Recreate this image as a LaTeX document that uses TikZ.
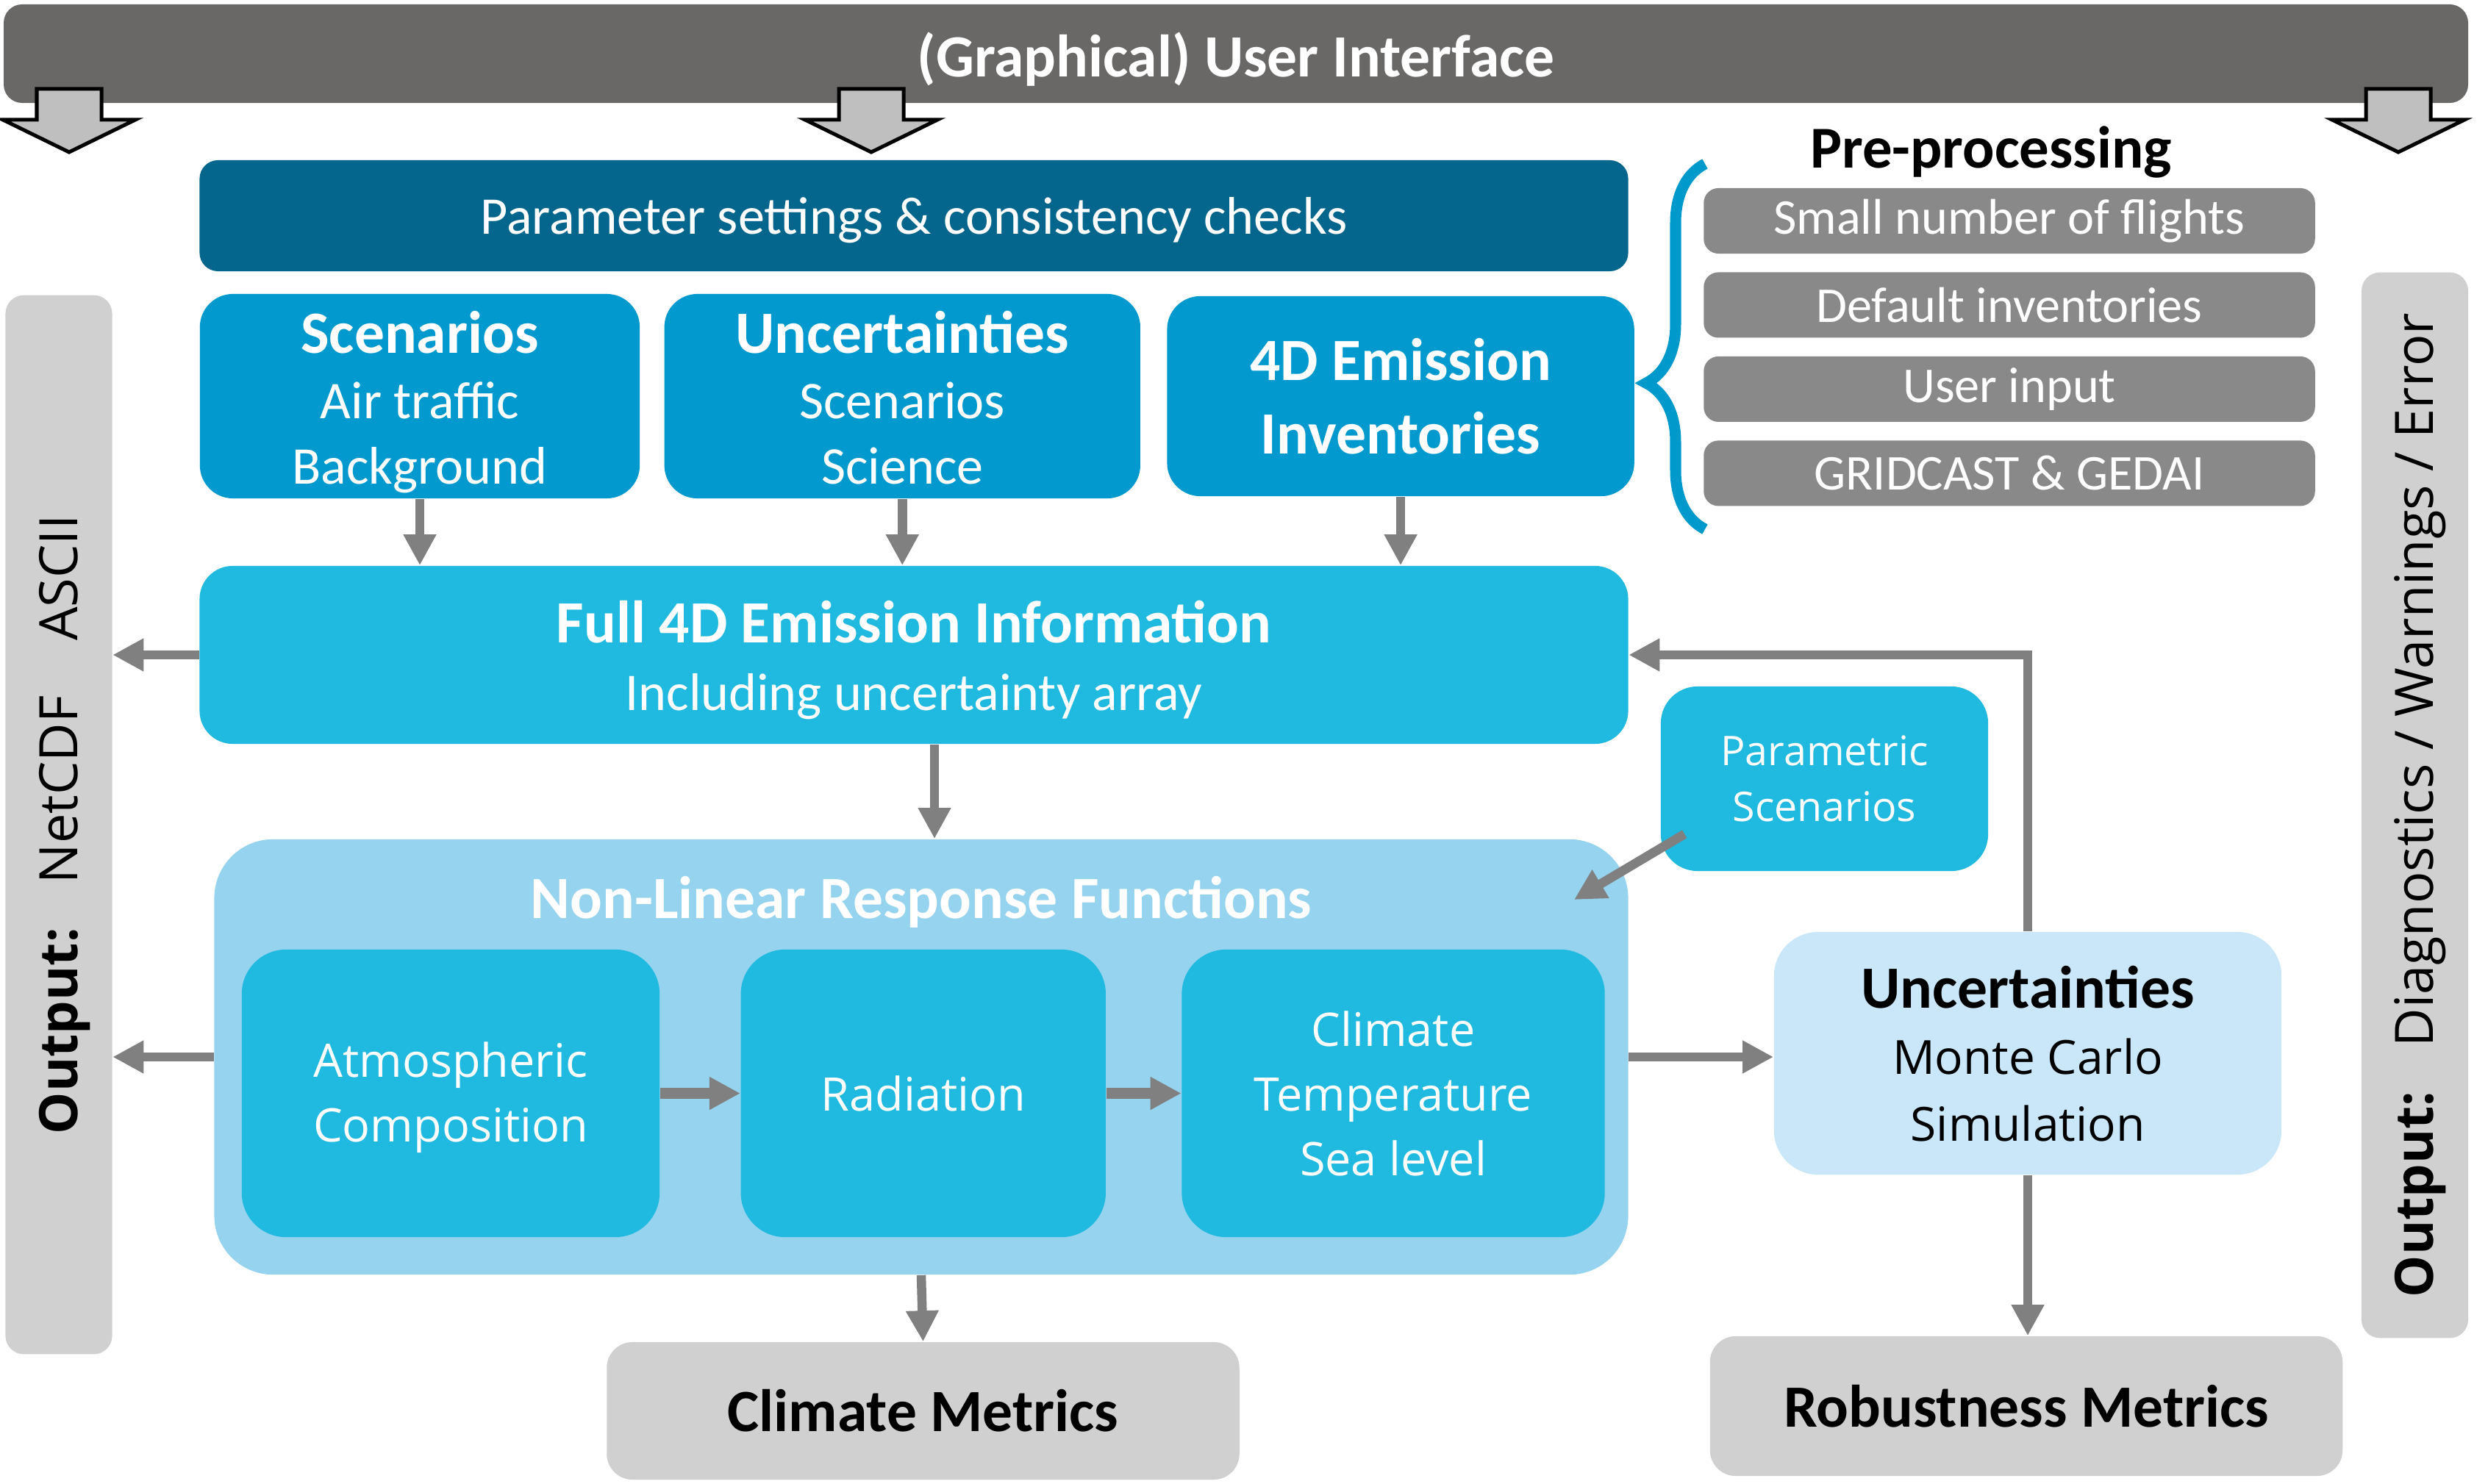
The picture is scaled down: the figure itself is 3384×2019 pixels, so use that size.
\documentclass[tikz,border=0pt]{standalone}
\usepackage{fontspec}
\setmainfont{Carlito}
\newfontfamily\segoe{Open Sans}
\usepackage{xcolor}
\usepackage{tikz}
\usetikzlibrary{arrows.meta,positioning,calc,decorations.pathreplacing}

\definecolor{guigrey}{RGB}{105,104,102}
\definecolor{tipgrey}{RGB}{191,191,191}
\definecolor{paramblue}{RGB}{5,102,141}
\definecolor{topblue}{RGB}{2,154,206}
\definecolor{midblue}{RGB}{32,185,224}
\definecolor{nlblue}{RGB}{149,211,238}
\definecolor{mcblue}{RGB}{201,231,248}
\definecolor{boxgrey}{RGB}{208,208,208}
\definecolor{ppgrey}{RGB}{137,137,137}
\definecolor{arrowgrey}{RGB}{128,128,128}
\definecolor{bracecol}{RGB}{0,153,204}

\begin{document}
\begin{tikzpicture}[
  x=0.01cm,y=-0.01cm,
  >={Triangle[length=4.2mm,width=4.2mm]},
  box/.style={inner sep=0pt,align=center,text=white},
  flow/.style={->,draw=arrowgrey,line width=1.25mm},
  gdown/.style={draw=black,fill=tipgrey,line width=0.5mm},
  topbox/.style={box,fill=topblue,rounded corners=4.5mm,minimum height=2.72cm,font=\fontsize{20.5}{25.3}\selectfont},
  inbox/.style={box,fill=midblue,rounded corners=6mm,minimum height=3.91cm,font=\segoe\fontsize{17.9}{25}\selectfont},
  ppbox/.style={box,fill=ppgrey,rounded corners=2mm,minimum width=8.31cm,minimum height=0.89cm,font=\fontsize{19.4}{23}\selectfont},
  outbar/.style={inner sep=0pt,fill=boxgrey,rounded corners=2.5mm,minimum width=1.45cm},
  metric/.style={inner sep=0pt,fill=boxgrey,rounded corners=3.5mm,minimum width=8.6cm,minimum height=1.87cm,font=\fontsize{23.2}{26}\selectfont\bfseries}
]
\useasboundingbox (0,0) rectangle (3384,2019);

% user interface and its three grey arrows
\node[box,fill=guigrey,rounded corners=2.5mm,minimum width=33.5cm,minimum height=1.34cm,text height=0.82cm,text depth=0.2cm,font=\fontsize{23.2}{26}\selectfont\bfseries] (gui) at (1681,73) {(Graphical) User Interface};
\draw[gdown] (94,121) ++(-44,0) -- ++(88,0) -- ++(0,42) -- ++(46,0) -- ++(-90,44) -- ++(-90,-44) -- ++(46,0) -- cycle;
\draw[gdown] (1185,121) ++(-44,0) -- ++(88,0) -- ++(0,42) -- ++(46,0) -- ++(-90,44) -- ++(-90,-44) -- ++(46,0) -- cycle;
\draw[gdown] (3262,121) ++(-44,0) -- ++(88,0) -- ++(0,42) -- ++(46,0) -- ++(-90,44) -- ++(-90,-44) -- ++(46,0) -- cycle;

% input side
\node[box,fill=paramblue,rounded corners=2.5mm,minimum width=19.42cm,minimum height=1.51cm,text height=0.7cm,text depth=0.2cm,font=\fontsize{20.5}{25}\selectfont] (param) at (1243,293.5) {Parameter settings \& consistency checks};
\node[topbox,minimum width=5.98cm,text height=2.58cm,text depth=0.2cm] (scen) at (571,539) {{\bfseries\fontsize{23.2}{26}\selectfont Scenarios}\\Air traffic\\Background};
\node[topbox,minimum width=6.47cm,text height=2.58cm,text depth=0.2cm,right=3.2mm of scen] (unc) {{\bfseries\fontsize{23.2}{26}\selectfont Uncertainties}\\Scenarios\\Science};
\node[topbox,minimum width=6.35cm,text height=1.76cm,text depth=0.2cm,right=3.5mm of unc,font=\fontsize{23.2}{28.2}\selectfont\bfseries] (inv) {4D Emission\\Inventories};

% pre-processing
\node[font=\fontsize{23}{26}\selectfont\bfseries] (pptitle) at (2708,207) {Pre-processing};
\node[ppbox] (pp1) at (2733,300.5) {Small number of flights};
\node[ppbox,below=2.4mm of pp1] (pp2) {Default inventories};
\node[ppbox,below=2.4mm of pp2] (pp3) {User input};
\node[ppbox,below=2.4mm of pp3] (pp4) {GRIDCAST \& GEDAI};
\draw[bracecol,line width=1.5mm,decorate,decoration={brace,amplitude=8mm,aspect=0.4}] (2319,720) -- (2319,223);

% emission information and response functions
\node[box,fill=midblue,rounded corners=4.5mm,minimum width=19.42cm,minimum height=2.42cm,text height=1.7cm,text depth=0.2cm,font=\fontsize{20.5}{25.9}\selectfont] (full) at (1243,891) {{\bfseries\fontsize{23.2}{26}\selectfont Full 4D Emission Information}\\Including uncertainty array};
\node[box,fill=midblue,rounded corners=5mm,minimum width=4.45cm,minimum height=2.51cm,font=\segoe\fontsize{15.8}{21.5}\selectfont] (para) at (2481.5,1059.5) {Parametric\\Scenarios};
\node[box,fill=nlblue,rounded corners=8mm,minimum width=19.22cm,minimum height=5.92cm] (nlin) at (1253,1438) {};
\node[text=white,font=\fontsize{23.2}{26}\selectfont\bfseries] (nltitle) at (1253,1227) {Non-Linear Response Functions};
\node[inbox,minimum width=5.68cm,text height=1.51cm,text depth=0.2cm] (atm) at (613,1487.5) {Atmospheric\\Composition};
\node[inbox,minimum width=4.96cm,right=10.9mm of atm] (rad) {Radiation};
\node[inbox,minimum width=5.75cm,right=10.2mm of rad] (clim) {Climate\\Temperature\\Sea level};
\node[box,text=black,fill=mcblue,rounded corners=6mm,minimum width=6.9cm,minimum height=3.3cm,text height=2.58cm,text depth=0.2cm,font=\segoe\fontsize{18.2}{25.7}\selectfont] (mc) at (2758,1433) {{\normalfont\bfseries\fontsize{23.2}{26}\selectfont Uncertainties}\\Monte Carlo\\Simulation};

% outputs
\node[metric] (cmet) at (1255.5,1919.5) {Climate Metrics};
\node[metric,minimum height=1.9cm] (rob) at (2756,1913) {Robustness Metrics};
\node[outbar,minimum height=14.4cm] (outl) at (80,1122) {\rotatebox{90}{\raisebox{-0.08cm}[\height][\depth]{\segoe\fontsize{20.5}{24}\selectfont\bfseries Output:\hspace{6mm}\mdseries NetCDF\hspace{7.5mm}ASCII}}};
\node[outbar,minimum height=14.49cm] (outr) at (3284.5,1095.5) {\rotatebox{90}{\raisebox{-0.07cm}[\height][\depth]{\segoe\fontsize{20.5}{24}\selectfont\bfseries Output:\hspace{6mm}\mdseries Diagnostics / Warnings / Error}}};

% connectors
\draw[flow] (scen.south) -- (scen.south |- full.north);
\draw[flow] (unc.south) -- (unc.south |- full.north);
\draw[flow] (inv.south) -- (inv.south |- full.north);
\draw[flow] ([xshift=2.8mm]full.south) -- ([xshift=2.8mm]full.south |- nlin.north);
\draw[flow] (full.west) -- (full.west -| outl.east);
\draw[flow] (nlin.west) -- (nlin.west -| outl.east);
\draw[flow] (nlin.east) -- (nlin.east -| mc.west);
\draw[flow] (mc.north) |- (full.east);
\draw[flow] (mc.south) -- (mc.south |- rob.north);
\draw[flow] (nlin.south) -- (cmet.north);
\draw[flow,line width=1.4mm] (atm) -- (rad);
\draw[flow,line width=1.4mm] (rad) -- (clim);
\coordinate (ptip) at (2141,1224);
\draw[flow] ([xshift=3.3mm,yshift=5.1mm]para.south west) -- (ptip);
\end{tikzpicture}
\end{document}
